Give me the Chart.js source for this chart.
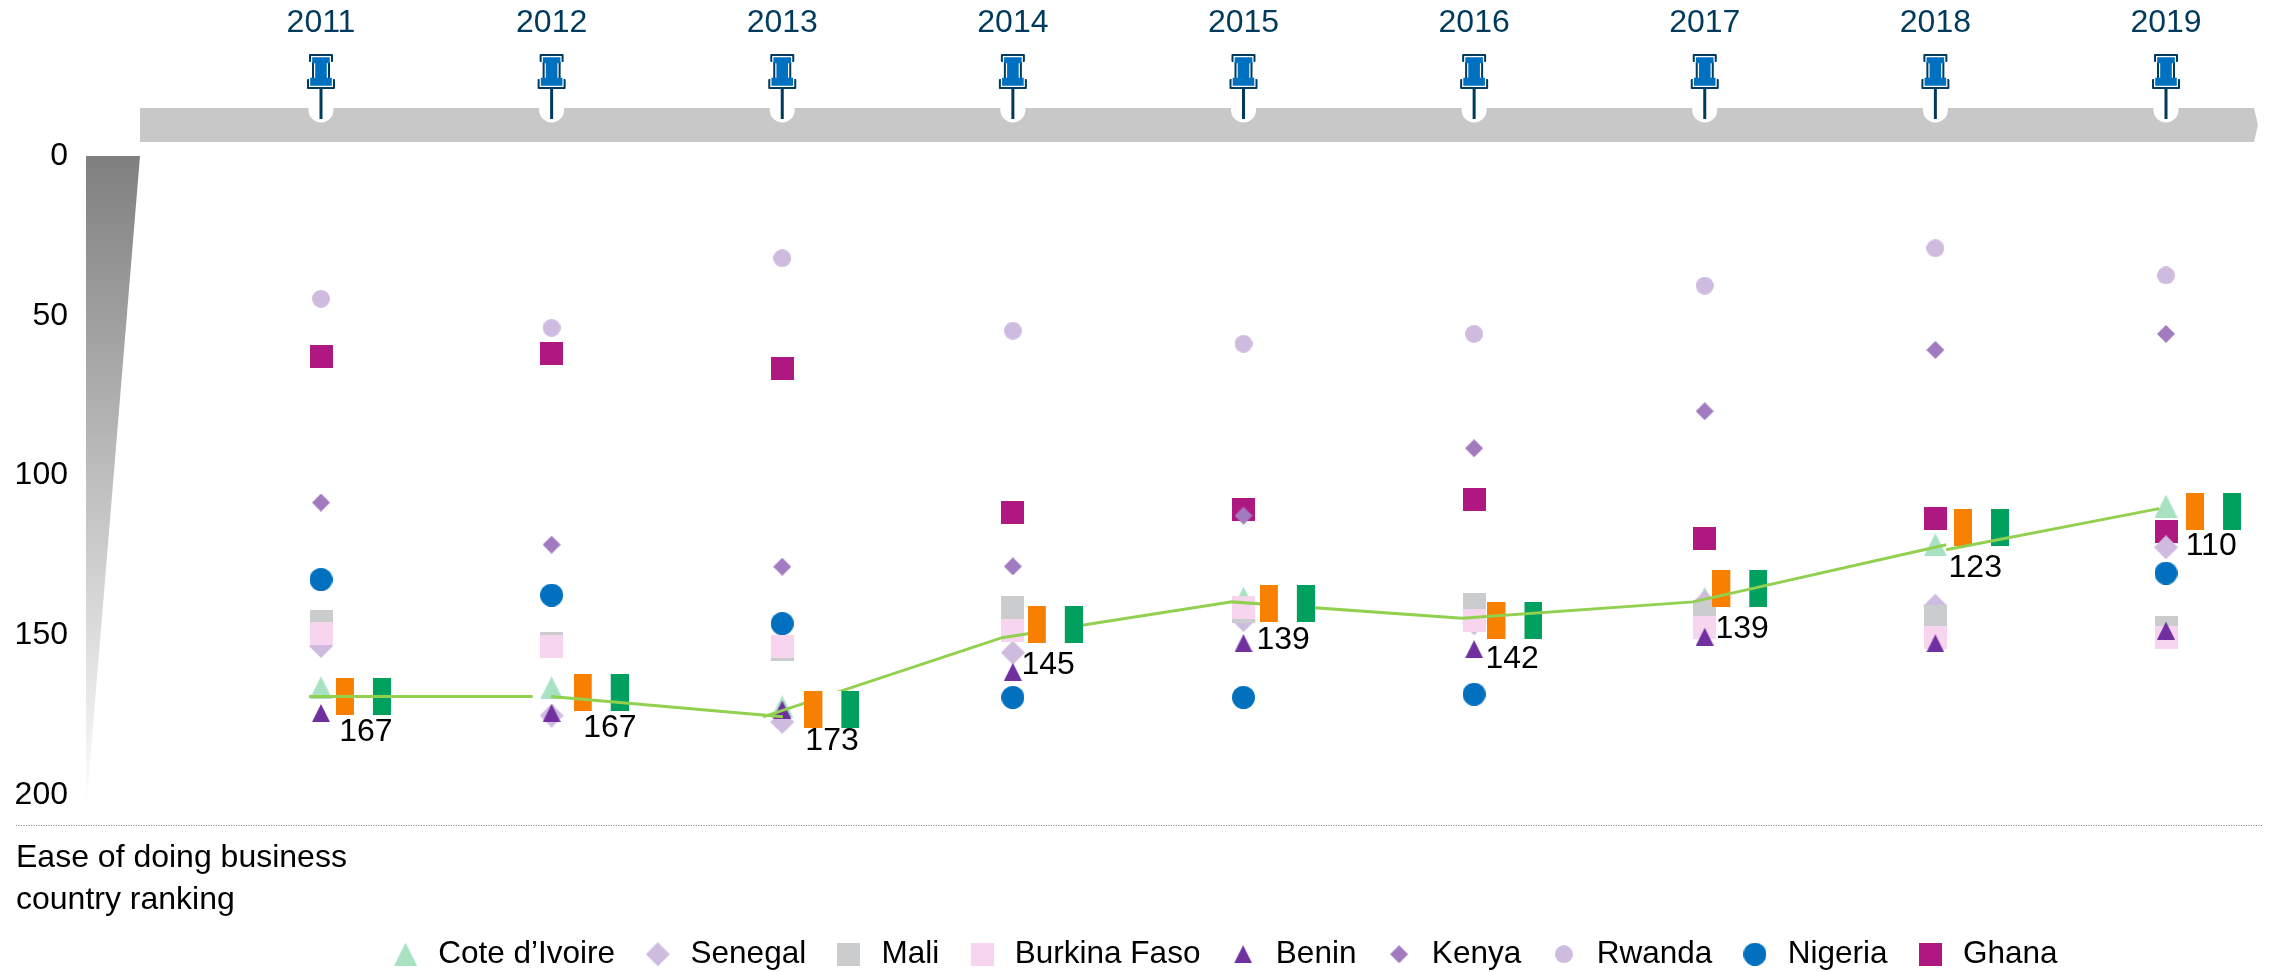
<!DOCTYPE html>
<html>
<head>
<meta charset="utf-8">
<style>html,body{margin:0;padding:0;background:#fff}canvas{display:block}</style>
<script src="https://cdn.jsdelivr.net/npm/chart.js@4/dist/chart.umd.min.js"></script>
</head>
<body>
<canvas id="c" width="2270" height="972"></canvas>
<script>
const years = [2011,2012,2013,2014,2015,2016,2017,2018,2019];
const rankTicks = [0,50,100,150,200];

const coteDivoire = [166.5,166.5,172.5,145,138.5,142,138.5,121.7,109.6];
const senegal     = [153.4,175.2,177.2,155.5,145.3,146.3,139.7,140.8,122.5];
const mali        = [145.6,152.6,154.5,141.5,142.6,140.5,142.7,144.3,147.5];
const burkinaFaso = [149.6,153.5,153.5,148.5,141.5,145.5,147.5,150.6,150.6];
const benin       = [174.4,174.4,173.3,161.5,152.5,154.4,150.5,152.6,148.6];
const kenya       = [108.5,121.7,128.6,128.5,112.6,91.5,79.9,60.7,55.7];
const rwanda      = [44.7,53.8,32,54.7,58.8,55.7,40.6,28.9,37.4];
const nigeria     = [132.6,137.5,146.4,169.5,169.5,168.5,145,145.6,130.6];
const ghana       = [62.8,61.8,66.6,111.6,110.6,107.6,119.7,113.6,117.6];

const trendOverYears = [2010.948,2011.918,2011.96,2011.997,2013.003,2013.01,2015.948,2016.95,2018.047,2018.05,2018.047,2018.97];
const trendOverRanks = [169.2,169.2,null,169.2,175.6,null,144.7,139.6,121.7,null,123.3,110.4];
const trendUnderYears = [2012.917,2013.953,2014.95,2015.948];
const trendUnderRanks = [175.6,150.8,139.6,144.7];

const flagYears = [2011.184,2012.215,2013.215,2014.184,2015.19,2016.177,2017.152,2018.2,2019.206];
const flagRanks = [169.3,168.1,173.4,146.7,140,145.4,135.4,116.2,111.2];

const labelTexts = ['167','167','173','145','139','142','139','123','110'];
const labelYears = [2011.195,2012.253,2013.216,2014.153,2015.172,2016.165,2017.162,2018.173,2019.196];
const labelRanks = [180.5,179.2,183.3,159.4,151.6,157.5,148.1,128.9,122.3];

const axisNote = ['Ease of doing business','country ranking'];
const FONT = '"Liberation Sans", Arial, sans-serif';

function marker(kind, size, color){
  const c = document.createElement('canvas');
  c.width = size; c.height = size;
  const g = c.getContext('2d');
  g.fillStyle = color;
  g.beginPath();
  if (kind === 'circle') g.arc(size/2,size/2,size/2,0,Math.PI*2);
  else if (kind === 'rect') g.rect(0,0,size,size);
  else if (kind === 'diamond'){ g.moveTo(size/2,0); g.lineTo(size,size/2); g.lineTo(size/2,size); g.lineTo(0,size/2); g.closePath(); }
  else { g.moveTo(size/2,0); g.lineTo(size,size); g.lineTo(0,size); g.closePath(); }
  g.fill();
  return c;
}
function flagMarker(){
  const c = document.createElement('canvas');
  c.width = 55; c.height = 37;
  const g = c.getContext('2d');
  g.fillStyle = '#F78000'; g.fillRect(0,0,18,37);
  g.fillStyle = '#FFFFFF'; g.fillRect(18,0,19,37);
  g.fillStyle = '#00A05E'; g.fillRect(37,0,18,37);
  return c;
}
const pts = (xs, ys) => xs.map((x,i)=>({x, y: ys[i]}));
const series = (label, values, kind, size, color, order) => ({
  label, data: pts(years, values), showLine:false, order, clip:false,
  pointStyle: marker(kind,size,color), pointRadius: size/2, pointHoverRadius:size/2,
  backgroundColor: color, borderColor: color, pointBorderWidth:0
});

const datasets = [
  series('Cote d\u2019Ivoire', coteDivoire, 'triangle', 23, '#A9E2C3', 11),
  series('Senegal', senegal, 'diamond', 24, '#CFBBDF', 10),
  series('Mali', mali, 'rect', 23, '#CBCCCE', 9),
  series('Burkina Faso', burkinaFaso, 'rect', 23, '#F8D5EF', 8),
  series('Benin', benin, 'triangle', 18, '#7030A0', 7),
  series('Kenya', kenya, 'diamond', 18, '#A17ABF', 6),
  series('Rwanda', rwanda, 'circle', 18, '#CFBBDF', 5),
  series('Nigeria', nigeria, 'circle', 23, '#0070BF', 12),
  series('Ghana', ghana, 'rect', 23, '#AE1880', 13),
  {label:'trend under', data:pts(trendUnderYears,trendUnderRanks), borderColor:'#92D050', borderWidth:3, pointRadius:0, tension:0, order:3, clip:false, spanGaps:false},
  {label:'flags', data:pts(flagYears,flagRanks), showLine:false, pointStyle:flagMarker(), pointRadius:60, pointHoverRadius:60, pointBorderWidth:0, order:2, clip:false},
  {label:'trend over', data:pts(trendOverYears,trendOverRanks), borderColor:'#92D050', borderWidth:3, pointRadius:0, tension:0, order:1, clip:false, spanGaps:false}
];

function pinPath(g, cx, inset){
  const p = [[-11,55],[11,55],[11,61],[8,61],[8,80],[13,80],[13,88],[-13,88],[-13,80],[-8,80],[-8,61],[-11,61]];
  const sx = v => Math.sign(v)*(Math.abs(v)-inset);
  g.beginPath();
  p.forEach((q,i)=>{
    let y = q[1];
    if (y===55) y+=inset;
    else if (y===88) y-=inset;
    else if (y===61) y+=inset;
    else if (y===80) y-=inset;
    const x = cx + sx(q[0]);
    if(i===0) g.moveTo(x,y); else g.lineTo(x,y);
  });
  g.closePath();
}

const decor = {
  id:'decor',
  afterLayout(chart){
    const l = chart.legend;
    l.left += 140; l.right += 140;
    const h = l.bottom - l.top;
    l.top = 972 - h + 8; l.bottom = l.top + h;
  },
  beforeDatasetsDraw(chart){
    const g = chart.ctx, x = chart.scales.x, y = chart.scales.y;
    g.save();
    g.fillStyle = '#C8C8C8';
    g.beginPath(); g.moveTo(140,108); g.lineTo(2254,108); g.lineTo(2258,125); g.lineTo(2254,142); g.lineTo(140,142); g.closePath(); g.fill();
    const top = y.getPixelForValue(0), bottom = y.getPixelForValue(205);
    const grad = g.createLinearGradient(0,top,0,bottom);
    grad.addColorStop(0,'#7F7F7F'); grad.addColorStop(1,'#FFFFFF');
    g.fillStyle = grad;
    g.beginPath(); g.moveTo(86,top); g.lineTo(140,top); g.lineTo(86,bottom); g.closePath(); g.fill();
    years.forEach(v=>{
      const cx = x.getPixelForValue(v);
      g.fillStyle = '#fff';
      g.beginPath(); g.arc(cx,110,12.5,0,Math.PI*2); g.fill();
      g.fillRect(cx-12.5,100,25,8);
      g.strokeStyle = '#003A5D'; g.lineWidth = 3;
      g.beginPath(); g.moveTo(cx,88); g.lineTo(cx,119); g.stroke();
      g.lineJoin='round';
      g.fillStyle='#003A5D'; g.strokeStyle='#003A5D'; g.lineWidth=2;
      pinPath(g,cx,0); g.fill(); g.stroke();
      g.fillStyle='#FFFFFF'; pinPath(g,cx,1); g.fill();
      g.fillStyle='#0070C0'; pinPath(g,cx,2.2); g.fill();
    });
    g.strokeStyle='#7F7F7F'; g.lineWidth=1; g.setLineDash([1,1.5]);
    g.beginPath(); g.moveTo(16,825.5); g.lineTo(2262,825.5); g.stroke();
    g.setLineDash([]);
    g.fillStyle='#000'; g.font='32px '+FONT; g.textAlign='left'; g.textBaseline='middle';
    axisNote.forEach((t,i)=>g.fillText(t,16,858+i*42));
    g.restore();
  },
  afterDatasetsDraw(chart){
    const g = chart.ctx, x = chart.scales.x, y = chart.scales.y;
    g.save();
    g.fillStyle='#000'; g.font='32px '+FONT; g.textAlign='center'; g.textBaseline='middle';
    labelTexts.forEach((t,i)=>g.fillText(t,x.getPixelForValue(labelYears[i]),y.getPixelForValue(labelRanks[i])));
    g.restore();
  }
};
const noPad = s => { s.paddingLeft = s.paddingRight = s.paddingTop = s.paddingBottom = 0; };

new Chart(document.getElementById('c'),{
  type:'line',
  data:{datasets},
  plugins:[decor],
  options:{
    responsive:false, animation:false, events:[],
    layout:{padding:{left:0,right:104,top:0,bottom:110}},
    scales:{
      x:{type:'linear',position:'top',min:years[0],max:years[years.length-1],
         grid:{display:false,drawTicks:false},border:{display:false},
         afterFit(s){s.height=156;noPad(s);},
         afterBuildTicks(s){s.ticks=years.map(v=>({value:v}));},
         ticks:{autoSkip:false,maxRotation:0,padding:114,color:'#003A5D',font:{family:FONT,size:32},callback:v=>String(v)}},
      y:{type:'linear',position:'left',reverse:true,min:0,max:200,
         grid:{display:false,drawTicks:false},border:{display:false},
         afterFit(s){s.width=321;noPad(s);},
         afterBuildTicks(s){s.ticks=rankTicks.map(v=>({value:v}));},
         ticks:{padding:253,color:'#000',font:{family:FONT,size:32}}}
    },
    plugins:{
      tooltip:{enabled:false},
      legend:{display:true,position:'bottom',
        labels:{usePointStyle:true,pointStyleWidth:34,padding:25.7,color:'#000',font:{family:FONT,size:31.5},
          filter:i=>i.datasetIndex<9, sort:(a,b)=>a.datasetIndex-b.datasetIndex}}
    }
  }
});
</script>
</body>
</html>
